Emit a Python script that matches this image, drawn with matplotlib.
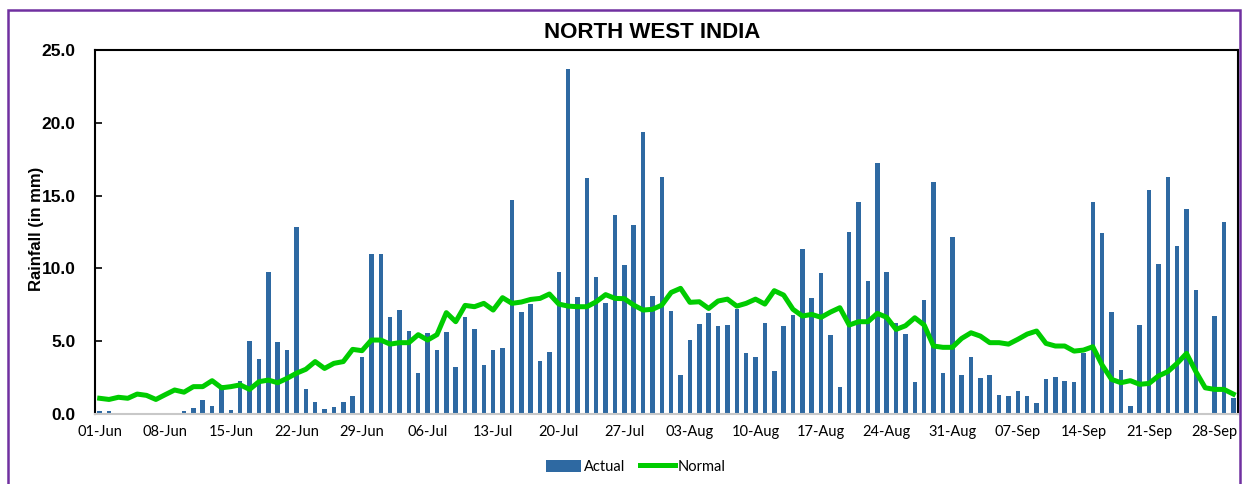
import matplotlib
matplotlib.use("Agg")
import matplotlib.pyplot as plt
from matplotlib.patches import Rectangle
import numpy as np

# daily rainfall, 01-Jun .. 30-Sep (122 days)
actual = [0.23, 0.23, 0.07, 0.07, 0.07, 0.07, 0.07, 0.07, 0.07, 0.23,
          0.43, 0.94, 0.57, 2.0, 0.3, 2.3, 5.0, 3.75, 9.75, 4.95,
          4.39, 12.86, 1.74, 0.8, 0.37, 0.5, 0.8, 1.21, 3.89, 10.96,
          10.96, 6.68, 7.12, 5.67, 2.81, 5.54, 4.39, 5.6, 3.23, 6.68,
          5.81, 3.36, 4.39, 4.5, 14.69, 7.03, 7.53, 3.66, 4.28, 9.73,
          23.68, 8.01, 16.18, 9.38, 7.6, 13.7, 10.23, 12.97, 19.34, 8.08,
          16.25, 7.09, 2.68, 5.08, 6.16, 6.96, 6.04, 6.09, 7.23, 4.16,
          3.94, 6.22, 2.95, 6.04, 6.8, 11.3, 7.96, 9.66, 5.45, 1.88,
          12.47, 14.53, 9.11, 17.25, 9.75, 6.22, 5.51, 2.22, 7.8, 15.9,
          2.79, 12.17, 2.65, 3.94, 2.45, 2.65, 1.28, 1.21, 1.58, 1.21,
          0.73, 2.38, 2.56, 2.24, 2.17, 4.16, 14.53, 12.4, 7.03, 3.02,
          0.57, 6.09, 15.4, 10.32, 16.27, 11.53, 14.1, 8.54, 0.0, 6.75,
          13.18, 1.08]

normal = [1.08, 1.0, 1.15, 1.08, 1.37, 1.28, 1.0, 1.33, 1.65, 1.5,
          1.88, 1.88, 2.29, 1.8, 1.88, 2.0, 1.69, 2.22, 2.33, 2.15,
          2.45, 2.8, 3.07, 3.6, 3.13, 3.48, 3.6, 4.44, 4.35, 5.08,
          5.08, 4.8, 4.9, 4.9, 5.45, 5.08, 5.45, 6.96, 6.34, 7.46,
          7.37, 7.6, 7.14, 7.99, 7.6, 7.69, 7.87, 7.94, 8.24, 7.55,
          7.41, 7.37, 7.37, 7.71, 8.2, 7.94, 7.92, 7.48, 7.14, 7.19,
          7.48, 8.35, 8.63, 7.67, 7.71, 7.25, 7.76, 7.89, 7.41, 7.6,
          7.89, 7.55, 8.47, 8.17, 7.19, 6.73, 6.84, 6.64, 7.0, 7.3,
          6.11, 6.34, 6.34, 6.91, 6.64, 5.81, 6.06, 6.61, 6.11, 4.67,
          4.58, 4.58, 5.19, 5.58, 5.35, 4.9, 4.9, 4.8, 5.13, 5.49,
          5.7, 4.85, 4.67, 4.67, 4.32, 4.39, 4.62, 3.36, 2.38, 2.15,
          2.29, 2.04, 2.1, 2.61, 2.91, 3.48, 4.16, 2.91, 1.8, 1.69,
          1.69, 1.37]

tick_labels = ['01-Jun', '08-Jun', '15-Jun', '22-Jun', '29-Jun', '06-Jul',
               '13-Jul', '20-Jul', '27-Jul', '03-Aug', '10-Aug', '17-Aug',
               '24-Aug', '31-Aug', '07-Sep', '14-Sep', '21-Sep', '28-Sep']

BAR = '#2E69A2'
LINE = '#00CC00'
ARIAL = ['Liberation Sans', 'DejaVu Sans']
SOFT = ['Lato', 'DejaVu Sans']

fig = plt.figure(figsize=(12.45, 4.84), dpi=100)
ax = fig.add_axes([0.0763, 0.1446, 0.9181, 0.7521])

x = np.arange(len(actual))
bars = ax.bar(x, actual, width=0.48, color=BAR, label='Actual', zorder=2)
line, = ax.plot(x, normal, color=LINE, lw=3.6, label='Normal', zorder=3,
                solid_joinstyle='round')

ax.set_xlim(-0.5, len(actual) - 0.5)
ax.set_ylim(0, 25)
yt = np.arange(0, 25.1, 5)
ax.set_yticks(yt)
ax.set_yticklabels([f'{v:.1f}' for v in yt], family=ARIAL,
                   fontweight='bold', fontsize=12.5)
ax.set_xticks(np.arange(0, len(actual), 7))
ax.set_xticklabels(tick_labels, family=SOFT, fontsize=10.5)
ax.tick_params(axis='y', direction='in', length=5, width=1.2, pad=14)
ax.tick_params(axis='x', length=0, pad=8)

for s in ('left', 'top', 'right'):
    ax.spines[s].set_color('black')
    ax.spines[s].set_linewidth(1.5)
ax.spines['bottom'].set_color('#C8C8C8')
ax.spines['bottom'].set_linewidth(1.5)

fig.text(37 / 1245, 0.527, 'Rainfall (in mm)', family=ARIAL, fontweight='bold',
         fontsize=12, rotation=90, ha='center', va='center')
fig.text(0.5237, 0.932, 'NORTH WEST INDIA', family=ARIAL, fontweight='bold',
         fontsize=16, ha='center', va='center')

fig.legend([bars, line], ['Actual', 'Normal'], loc='center',
           bbox_to_anchor=(0.511, 0.036), ncol=2, frameon=False,
           prop={'family': SOFT, 'size': 10.5}, handlelength=2.4,
           handleheight=0.9, columnspacing=1.0, handletextpad=0.2)

# purple frame round the chart
fig.patches.append(Rectangle((8 / 1245, -0.05), 1232 / 1245, 1.05 - 10 / 484,
                             transform=fig.transFigure, fill=False,
                             edgecolor='#7030A0', linewidth=1.8))

fig.savefig('out.png', dpi=100)
